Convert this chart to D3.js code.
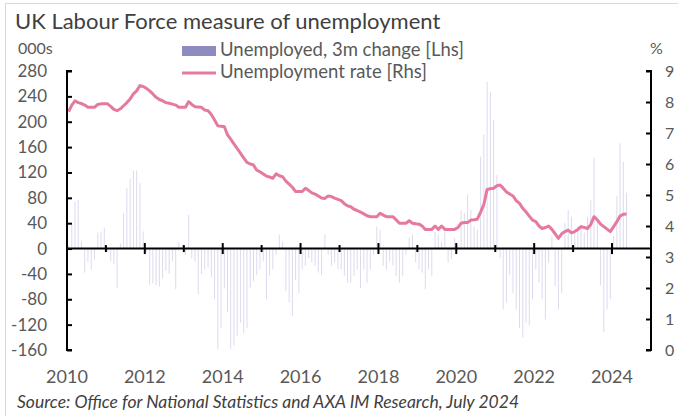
<!DOCTYPE html>
<html>
<head>
<meta charset="utf-8">
<script src="https://cdn.jsdelivr.net/npm/d3@7"></script>
<style>
  body { margin: 0; background: #fff; }
  svg { display: block; font-family: Lato, "Open Sans", sans-serif; }
</style>
</head>
<body>
<div id="chart"></div>
<script>
// monthly series, Jan 2010 .. May 2024
const startMonth = new Date(Date.UTC(2010, 0, 1));

// unemployment rate, % (rhs)
const rate = [
  7.69, 7.90, 8.04, 7.98, 7.95, 7.90, 7.83, 7.83, 7.83, 7.92, 7.94, 7.94,
  7.94, 7.86, 7.76, 7.72, 7.78, 7.88, 7.98, 8.10, 8.26, 8.36, 8.53, 8.50,
  8.44, 8.36, 8.26, 8.15, 8.08, 8.04, 7.98, 7.96, 7.93, 7.90, 7.83, 7.83,
  7.83, 8.01, 7.92, 7.85, 7.84, 7.83, 7.74, 7.72, 7.60, 7.42, 7.23, 7.22,
  7.20, 6.94, 6.80, 6.65, 6.50, 6.35, 6.20, 6.05, 6.00, 5.97, 5.80, 5.75,
  5.68, 5.61, 5.58, 5.54, 5.68, 5.62, 5.59, 5.45, 5.35, 5.25, 5.11, 5.11,
  5.11, 5.22, 5.15, 5.07, 5.03, 4.97, 4.90, 4.89, 4.97, 4.95, 4.90, 4.86,
  4.82, 4.72, 4.65, 4.62, 4.54, 4.50, 4.45, 4.39, 4.33, 4.30, 4.30, 4.30,
  4.41, 4.35, 4.30, 4.30, 4.30, 4.20, 4.09, 4.09, 4.09, 4.17, 4.09, 4.07,
  4.06, 4.00, 3.89, 3.89, 3.89, 4.00, 3.89, 4.00, 3.89, 3.89, 3.89, 3.89,
  3.95, 4.09, 4.11, 4.11, 4.19, 4.20, 4.22, 4.45, 4.70, 5.18, 5.20, 5.22,
  5.30, 5.32, 5.22, 5.10, 5.03, 4.97, 4.82, 4.73, 4.57, 4.45, 4.32, 4.19,
  4.14, 4.00, 3.92, 3.95, 4.00, 3.89, 3.75, 3.60, 3.75, 3.82, 3.87, 3.78,
  3.82, 3.89, 3.98, 3.95, 3.92, 4.05, 4.30, 4.20, 4.06, 3.98, 3.90, 3.82,
  3.98, 4.14, 4.32, 4.38, 4.39
];

// unemployed, 3m change, 000s (lhs)
const change = [
    5,   40,   74,   77,   11,  -38,  -22,  -33,  -17,   25,   27,   33,
   -5,  -20,  -25,  -62,    8,   56,   95,  111,  123,  123,  103,   27,
   -5,  -57,  -55,  -58,  -60,  -47,  -35,  -40,  -20,  -64,   10,    5,
  -10,   53,  -15,  -20,  -72,  -40,  -33,  -30,  -45,  -80, -158, -125,
  -63, -100, -158, -153, -138, -117, -133, -125,  -63,  -52,  -42,  -33,
  -20,  -80,  -43,  -33,  -10,   22,   10,  -67,  -85, -106,  -50,  -70,
  -33,  -27,  -15,  -22,  -27,  -38,  -42,   22,  -10,  -27,  -22,  -33,
  -33,  -43,  -54,  -54,  -43,  -33,  -62,  -33,  -54,  -33,  -10,   35,
   30,  -27,  -33,  -20,  -27,  -43,  -54,  -43,  -10,   17,   22,  -22,
  -33,  -38,  -64,  -33,  -43,   27,   22,   11,   27,  -22,  -17,   17,
    5,   59,   56,   85,   61,   35,   30,  145,  180,  263,  247,  203,
  116,  -15,  -96,  -85,  -42,  -70,  -96, -125, -140, -117, -121,  -80,
  -33,  -54,  -80, -112,  -22,   19,  -59,  -96,  -70,   40,   61,   50,
   30,   35,   35,   25,   50,   77,  143,   45,  -58, -132,  -96,  -80,
   20,   83,  166,  137,   88
];

const leftTicks = [-160, -120, -80, -40, 0, 40, 80, 120, 160, 200, 240, 280];
const rightTicks = [0, 1, 2, 3, 4, 5, 6, 7, 8, 9];
const yearLabels = [2010, 2012, 2014, 2016, 2018, 2020, 2022, 2024];

const width = 678, height = 416;
const plot = { left: 67, right: 651, top: 71, bottom: 350 };
const textColor = "#595959";

const months = rate.map((v, i) => d3.utcMonth.offset(startMonth, i));
const midMonth = d => new Date((+d + +d3.utcMonth.offset(d, 1)) / 2);

const x = d3.scaleUtc()
    .domain([startMonth, new Date(Date.UTC(2025, 0, 1))])
    .range([plot.left, plot.right]);
const yL = d3.scaleLinear().domain([-160, 280]).range([plot.bottom, plot.top]);
const yR = d3.scaleLinear().domain([0, 9]).range([plot.bottom, plot.top]);

const svg = d3.select("#chart").append("svg")
    .attr("width", width)
    .attr("height", height)
    .attr("viewBox", [0, 0, width, height]);

// chart border
svg.append("rect")
    .attr("x", 5.5).attr("y", 3.5)
    .attr("width", 700).attr("height", 500)
    .attr("fill", "none")
    .attr("stroke", "#d9d9d9");

// title and axis units
svg.append("text")
    .attr("x", 15).attr("y", 29)
    .attr("fill", "#404040")
    .style("font-size", "22px")
    .text("UK Labour Force measure of unemployment");

svg.append("text")
    .attr("x", 18).attr("y", 54)
    .attr("fill", textColor)
    .style("font-size", "16px")
    .text("000s");

svg.append("text")
    .attr("x", 650).attr("y", 54)
    .attr("fill", textColor)
    .style("font-size", "16px")
    .text("%");

// bars
svg.append("g")
    .attr("fill", "#dcdbee")
    .selectAll("rect")
    .data(change)
    .join("rect")
        .attr("x", (d, i) => x(midMonth(months[i])) - 0.5)
        .attr("width", 1)
        .attr("y", d => yL(Math.max(0, d)))
        .attr("height", d => Math.abs(yL(d) - yL(0)));

// rate line
svg.append("path")
    .datum(rate)
    .attr("fill", "none")
    .attr("stroke", "#e6799f")
    .attr("stroke-width", 3)
    .attr("stroke-linejoin", "round")
    .attr("d", d3.line()
        .x((d, i) => x(midMonth(months[i])))
        .y(d => yR(d)));

// x axis with major (even) and minor (odd) ticks crossing the line
const xAxisY = yL(0);
const xg = svg.append("g");
xg.append("line")
    .attr("x1", plot.left).attr("x2", plot.right)
    .attr("y1", xAxisY).attr("y2", xAxisY)
    .attr("stroke", "#000").attr("stroke-width", 2);
xg.selectAll(".xt")
    .data(d3.range(2011, 2025))
    .join("line")
        .attr("x1", d => x(new Date(Date.UTC(d, 0, 1))))
        .attr("x2", d => x(new Date(Date.UTC(d, 0, 1))))
        .attr("y1", d => xAxisY - (d % 2 ? 3.5 : 5.5))
        .attr("y2", d => xAxisY + (d % 2 ? 3.5 : 5.5))
        .attr("stroke", "#000").attr("stroke-width", 2);
xg.selectAll("text")
    .data(yearLabels)
    .join("text")
        .attr("x", d => x(new Date(Date.UTC(d, 0, 1))))
        .attr("y", 383)
        .attr("text-anchor", "middle")
        .attr("fill", textColor)
        .style("font-size", "18px")
        .text(d => d);

// left axis, ticks pointing inward
svg.append("g")
    .attr("transform", `translate(${plot.left},0)`)
    .call(d3.axisRight(yL).tickValues(leftTicks).tickSize(5).tickFormat(""))
    .call(g => g.select(".domain").attr("stroke-width", 2).attr("d", `M5,${plot.top}H0V${plot.bottom}H5`))
    .call(g => g.selectAll(".tick line").attr("stroke-width", 2));
svg.append("g")
    .selectAll("text")
    .data(leftTicks)
    .join("text")
        .attr("x", 47)
        .attr("y", d => yL(d) + 6)
        .attr("text-anchor", "end")
        .attr("fill", textColor)
        .style("font-size", "17px")
        .text(d => d);

// right axis, ticks pointing inward
svg.append("g")
    .attr("transform", `translate(${plot.right},0)`)
    .call(d3.axisLeft(yR).tickValues(rightTicks).tickSize(5).tickFormat(""))
    .call(g => g.select(".domain").attr("stroke-width", 2).attr("d", `M-5,${plot.top}H0V${plot.bottom}H-5`))
    .call(g => g.selectAll(".tick line").attr("stroke-width", 2));
svg.append("g")
    .selectAll("text")
    .data(rightTicks)
    .join("text")
        .attr("x", 665)
        .attr("y", d => yR(d) + 6)
        .attr("fill", textColor)
        .style("font-size", "16px")
        .text(d => d);

// legend
const legend = svg.append("g");
legend.append("rect")
    .attr("x", 182).attr("y", 46)
    .attr("width", 34).attr("height", 10)
    .attr("fill", "#8d8bc0");
legend.append("text")
    .attr("x", 220).attr("y", 56)
    .attr("fill", textColor)
    .style("font-size", "18.5px")
    .text("Unemployed, 3m change [Lhs]");
legend.append("line")
    .attr("x1", 182).attr("x2", 216)
    .attr("y1", 73).attr("y2", 73)
    .attr("stroke", "#e6799f").attr("stroke-width", 3);
legend.append("text")
    .attr("x", 220).attr("y", 78)
    .attr("fill", textColor)
    .style("font-size", "18.5px")
    .text("Unemployment rate [Rhs]");

// source
svg.append("text")
    .attr("x", 17).attr("y", 408)
    .attr("fill", "#404040")
    .style("font-size", "17.5px")
    .style("font-style", "italic")
    .text("Source: Office for National Statistics and AXA IM Research, July 2024");
</script>
</body>
</html>
